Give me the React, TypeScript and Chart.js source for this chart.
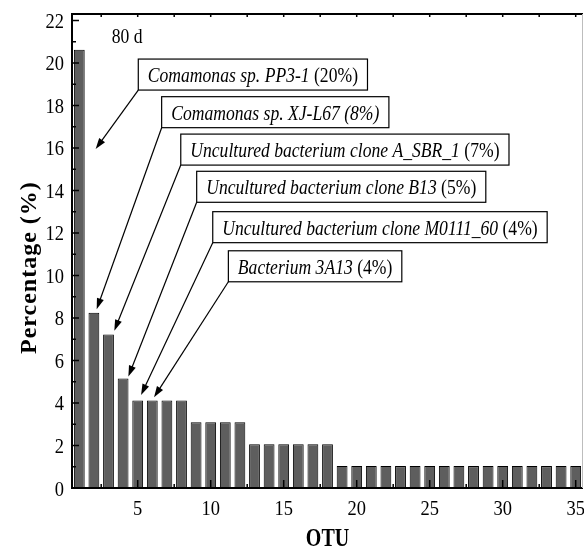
import React, { useEffect, useRef } from 'react';
import { Chart, registerables } from 'chart.js';

Chart.register(...registerables);

// ---------- data ----------
const otu = [
  1, 2, 3, 4, 5, 6, 7, 8, 9, 10, 11, 12, 13, 14, 15, 16, 17, 18, 19, 20,
  21, 22, 23, 24, 25, 26, 27, 28, 29, 30, 31, 32, 33, 34, 35,
];
const percentages = [
  20.62, 8.25, 7.22, 5.15, 4.12, 4.12, 4.12, 4.12, 3.09, 3.09, 3.09, 3.09,
  2.06, 2.06, 2.06, 2.06, 2.06, 2.06, 1.03, 1.03, 1.03, 1.03, 1.03, 1.03,
  1.03, 1.03, 1.03, 1.03, 1.03, 1.03, 1.03, 1.03, 1.03, 1.03, 1.03,
];
const xTickValues = [5, 10, 15, 20, 25, 30, 35];
const xMinorTickValues = [2.5, 7.5, 12.5, 17.5, 22.5, 27.5, 32.5];
const yTickValues = [0, 2, 4, 6, 8, 10, 12, 14, 16, 18, 20, 22];
const yMinorTickValues = [1, 3, 5, 7, 9, 11, 13, 15, 17, 19, 21];

const xTitle = 'OTU';
const yTitle = 'Percentage (%)';
const panelLabel = '80 d';
const panelLabelPos = [3.22, 20.92];

// annotations (italic part + upright part), box anchors and arrow tips in data units
const annotationItalic = [
  'Comamonas sp. PP3-1',
  'Comamonas sp. XJ-L67 (8%)',
  'Uncultured bacterium clone A_SBR_1',
  'Uncultured bacterium clone B13',
  'Uncultured bacterium clone M0111_60',
  'Bacterium 3A13',
];
const annotationUpright = [' (20%)', '', ' (7%)', ' (5%)', ' (4%)', ' (4%)'];
const annotationBoxX = [5.04, 6.64, 7.95, 9.04, 10.14, 11.21];
const annotationBoxTop = [20.18, 18.41, 16.65, 14.9, 13.0, 11.16];
const arrowTipX = [2.12, 2.19, 3.4, 4.36, 5.23, 6.12];
const arrowTipY = [15.95, 8.41, 7.4, 5.24, 4.38, 4.27];

// ---------- styles ----------
const FONT = '"Liberation Serif", "Times New Roman", serif';
const TEXT_SX = 0.8;
const TICK_SX = 0.84;

function drawScaled(
  ctx: CanvasRenderingContext2D,
  text: string,
  x: number,
  y: number,
  sx: number,
  align: 'left' | 'center' | 'right'
) {
  const w = ctx.measureText(text).width * sx;
  let x0 = x;
  if (align === 'right') x0 = x - w;
  else if (align === 'center') x0 = x - w / 2;
  ctx.save();
  ctx.translate(x0, y);
  ctx.scale(sx, 1);
  ctx.textAlign = 'left';
  ctx.textBaseline = 'alphabetic';
  ctx.fillText(text, 0, 0);
  ctx.restore();
  return w;
}

const decorPlugin = {
  id: 'decor',
  afterDatasetsDraw(chart: any) {
    const ctx: CanvasRenderingContext2D = chart.ctx;
    const { left, right, top, bottom } = chart.chartArea;
    const xs = chart.scales.x;
    const ys = chart.scales.y;
    ctx.save();

    // frame
    ctx.strokeStyle = '#000';
    ctx.lineWidth = 2;
    ctx.beginPath();
    ctx.moveTo(left, top);
    ctx.lineTo(right, top);
    ctx.moveTo(left, top - 1);
    ctx.lineTo(left, bottom + 1);
    ctx.moveTo(left - 1, bottom);
    ctx.lineTo(right, bottom);
    ctx.stroke();
    ctx.strokeStyle = '#bdbdbd';
    ctx.lineWidth = 1;
    ctx.beginPath();
    ctx.moveTo(right - 0.5, top);
    ctx.lineTo(right - 0.5, bottom);
    ctx.stroke();

    // ticks
    ctx.strokeStyle = '#000';
    ctx.lineWidth = 1.5;
    ctx.beginPath();
    yTickValues.forEach((v) => {
      const y = ys.getPixelForValue(v);
      ctx.moveTo(left, y);
      ctx.lineTo(left + 7, y);
    });
    yMinorTickValues.forEach((v) => {
      const y = ys.getPixelForValue(v);
      ctx.moveTo(left, y);
      ctx.lineTo(left + 4, y);
    });
    xTickValues.forEach((v) => {
      const x = xs.getPixelForValue(v);
      ctx.moveTo(x, bottom);
      ctx.lineTo(x, bottom - 8);
      ctx.moveTo(x, top);
      ctx.lineTo(x, top + 3);
    });
    xMinorTickValues.forEach((v) => {
      const x = xs.getPixelForValue(v);
      ctx.moveTo(x, bottom);
      ctx.lineTo(x, bottom - 4);
      ctx.moveTo(x, top);
      ctx.lineTo(x, top + 3);
    });
    ctx.stroke();

    // tick labels
    ctx.fillStyle = '#000';
    ctx.font = `22px ${FONT}`;
    yTickValues.forEach((v) => {
      const y = ys.getPixelForValue(v);
      drawScaled(ctx, String(v), left - 8, y + 7.5, TICK_SX, 'right');
    });
    xTickValues.forEach((v) => {
      const x = xs.getPixelForValue(v);
      drawScaled(ctx, String(v), x, bottom + 27, TICK_SX, 'center');
    });

    // axis titles
    ctx.font = `bold 25px ${FONT}`;
    drawScaled(ctx, xTitle, (left + right) / 2, bottom + 58, TEXT_SX, 'center');
    ctx.save();
    ctx.translate(36, top + (bottom - top) * 0.535);
    ctx.rotate(-Math.PI / 2);
    ctx.font = `bold 24px ${FONT}`;
    ctx.textAlign = 'center';
    ctx.textBaseline = 'alphabetic';
    (ctx as any).letterSpacing = '1px';
    ctx.fillText(yTitle, 0, 0);
    (ctx as any).letterSpacing = '0px';
    ctx.restore();

    // panel label
    ctx.font = `22px ${FONT}`;
    drawScaled(
      ctx,
      panelLabel,
      xs.getPixelForValue(panelLabelPos[0]),
      ys.getPixelForValue(panelLabelPos[1]),
      TEXT_SX,
      'left'
    );

    // annotations
    const pad = 9.5;
    const boxH = 31;
    annotationItalic.forEach((it, i) => {
      const bx = xs.getPixelForValue(annotationBoxX[i]);
      const by = ys.getPixelForValue(annotationBoxTop[i]);
      ctx.font = `italic 22px ${FONT}`;
      const wI = ctx.measureText(it).width * TEXT_SX;
      ctx.font = `22px ${FONT}`;
      const wU = ctx.measureText(annotationUpright[i]).width * TEXT_SX;
      const bw = wI + wU + pad * 2;

      // arrow
      const x0 = bx;
      const y0 = by + boxH;
      const x1 = xs.getPixelForValue(arrowTipX[i]);
      const y1 = ys.getPixelForValue(arrowTipY[i]);
      const ang = Math.atan2(y1 - y0, x1 - x0);
      const headL = 11;
      const headW = 3.6;
      ctx.strokeStyle = '#000';
      ctx.lineWidth = 1.2;
      ctx.beginPath();
      ctx.moveTo(x0, y0);
      ctx.lineTo(x1 - Math.cos(ang) * headL * 0.8, y1 - Math.sin(ang) * headL * 0.8);
      ctx.stroke();
      ctx.fillStyle = '#000';
      ctx.beginPath();
      ctx.moveTo(x1, y1);
      ctx.lineTo(
        x1 - Math.cos(ang) * headL - Math.sin(ang) * headW,
        y1 - Math.sin(ang) * headL + Math.cos(ang) * headW
      );
      ctx.lineTo(
        x1 - Math.cos(ang) * headL + Math.sin(ang) * headW,
        y1 - Math.sin(ang) * headL - Math.cos(ang) * headW
      );
      ctx.closePath();
      ctx.fill();

      // box
      ctx.fillStyle = '#fff';
      ctx.fillRect(bx, by, bw, boxH);
      ctx.strokeStyle = '#000';
      ctx.lineWidth = 1.2;
      ctx.strokeRect(bx, by, bw, boxH);

      // text
      ctx.fillStyle = '#000';
      ctx.font = `italic 22px ${FONT}`;
      drawScaled(ctx, it, bx + pad, by + 23, TEXT_SX, 'left');
      if (annotationUpright[i]) {
        ctx.font = `22px ${FONT}`;
        drawScaled(ctx, annotationUpright[i], bx + pad + wI, by + 23, TEXT_SX, 'left');
      }
    });

    ctx.restore();
  },
};

export default function App() {
  const canvasRef = useRef<HTMLCanvasElement | null>(null);

  useEffect(() => {
    document.body.style.margin = '0';
    const canvas = canvasRef.current;
    if (!canvas) return;
    const chart = new Chart(canvas, {
      type: 'bar',
      data: {
        labels: otu,
        datasets: [
          {
            data: percentages,
            backgroundColor: '#5e5e5e',
            borderColor: '#000',
            borderWidth: 1,
            barPercentage: 0.74,
            categoryPercentage: 1,
          },
        ],
      },
      options: {
        responsive: false,
        animation: false,
        devicePixelRatio: 1,
        layout: { padding: { left: 72, top: 14, right: 1, bottom: 63 } },
        plugins: {
          legend: { display: false },
          tooltip: { enabled: false },
          title: { display: false },
        },
        scales: {
          x: {
            type: 'linear',
            min: 0.5,
            max: 35.5,
            offset: false,
            grid: { display: false, drawTicks: false },
            border: { display: false },
            ticks: { display: false },
            afterBuildTicks: (s: any) => {
              s.ticks = xTickValues.map((v) => ({ value: v }));
            },
          },
          y: {
            type: 'linear',
            min: 0,
            max: 22.3,
            grid: { display: false, drawTicks: false },
            border: { display: false },
            ticks: { display: false },
            afterBuildTicks: (s: any) => {
              s.ticks = yTickValues.map((v) => ({ value: v }));
            },
          },
        },
      } as any,
      plugins: [decorPlugin],
    });
    return () => chart.destroy();
  }, []);

  return (
    <div style={{ width: 584, height: 551, background: '#fff' }}>
      <canvas ref={canvasRef} width={584} height={551} style={{ display: 'block' }} />
    </div>
  );
}
